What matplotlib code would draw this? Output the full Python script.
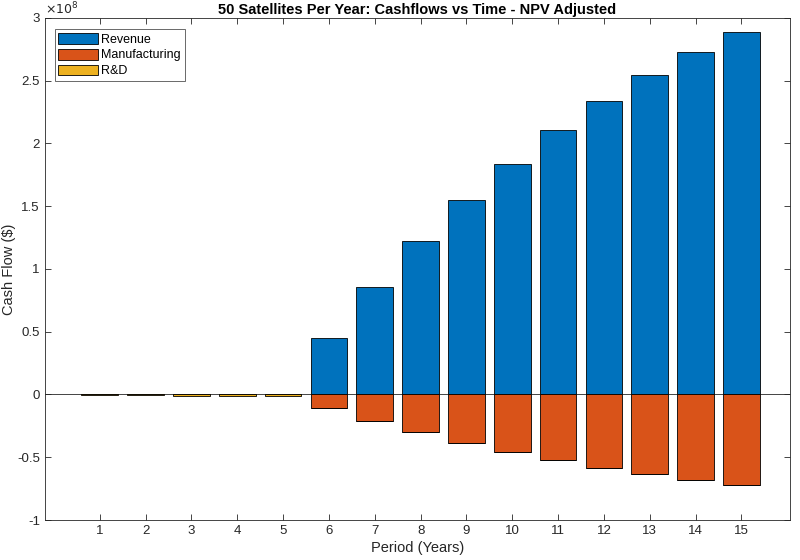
import numpy as np
import matplotlib.pyplot as plt

plt.rcParams['font.family'] = ['Liberation Sans', 'DejaVu Sans']

periods = np.arange(1, 16)
revenue = [0, 0, 0, 0, 0, 0.45e8, 0.855e8, 1.22e8, 1.55e8, 1.84e8, 2.105e8, 2.34e8, 2.545e8, 2.725e8, 2.885e8]
manufacturing = [0, 0, 0, 0, 0, -0.105e8, -0.21e8, -0.30e8, -0.385e8, -0.46e8, -0.525e8, -0.585e8, -0.635e8, -0.68e8, -0.725e8]
rnd = [-0.003e8, -0.003e8, -0.01e8, -0.015e8, -0.015e8, 0, 0, 0, 0, 0, 0, 0, 0, 0, 0]

c_rev = '#0072BD'
c_man = '#D95319'
c_rnd = '#EDB120'

fig = plt.figure(figsize=(8, 5.6), dpi=100)
ax = fig.add_axes([0.056, 0.0714, 0.931, 0.8966])

ax.bar(periods, revenue, 0.8, color=c_rev, edgecolor='black', linewidth=0.6, label='Revenue')
ax.bar(periods, manufacturing, 0.8, color=c_man, edgecolor='black', linewidth=0.6, label='Manufacturing')
ax.bar(periods, rnd, 0.8, bottom=manufacturing, color=c_rnd, edgecolor='black', linewidth=0.6, label='R&D')
ax.axhline(0, color='#262626', linewidth=0.6, zorder=0.5)

ax.set_xlim(-0.2, 16.05)
ax.set_ylim(-1e8, 3e8)
ax.set_xticks(periods)
ax.set_yticks(np.arange(-1e8, 3.01e8, 0.5e8))
ax.set_yticklabels(['-1', '-0.5', '0', '0.5', '1', '1.5', '2', '2.5', '3'])
ax.text(0, 1.002, r'$\times10^{8}$', transform=ax.transAxes, fontsize=9, color='#262626', va='bottom', ha='left')

ax.tick_params(direction='in', top=True, right=True, labelsize=9.5, colors='#262626', length=4, width=0.6)
for s in ax.spines.values():
    s.set_color('#262626')
    s.set_linewidth(0.6)

ax.set_xlabel('Period (Years)', fontsize=10.5, color='#262626', labelpad=3)
ax.set_ylabel('Cash Flow ($)', fontsize=10.5, color='#262626', labelpad=1)
ax.set_title('50 Satellites Per Year: Cashflows vs Time - NPV Adjusted', fontsize=10.5, fontweight='bold', pad=3)

leg = ax.legend(loc='upper left', bbox_to_anchor=(0.008, 0.985), fontsize=9, frameon=True, fancybox=False,
                edgecolor='#262626', handlelength=3.2, handleheight=0.95, borderaxespad=0.3,
                handletextpad=0.25, labelspacing=0.25, borderpad=0.3)
leg.get_frame().set_linewidth(0.6)

fig.savefig('out.png', dpi=100)
